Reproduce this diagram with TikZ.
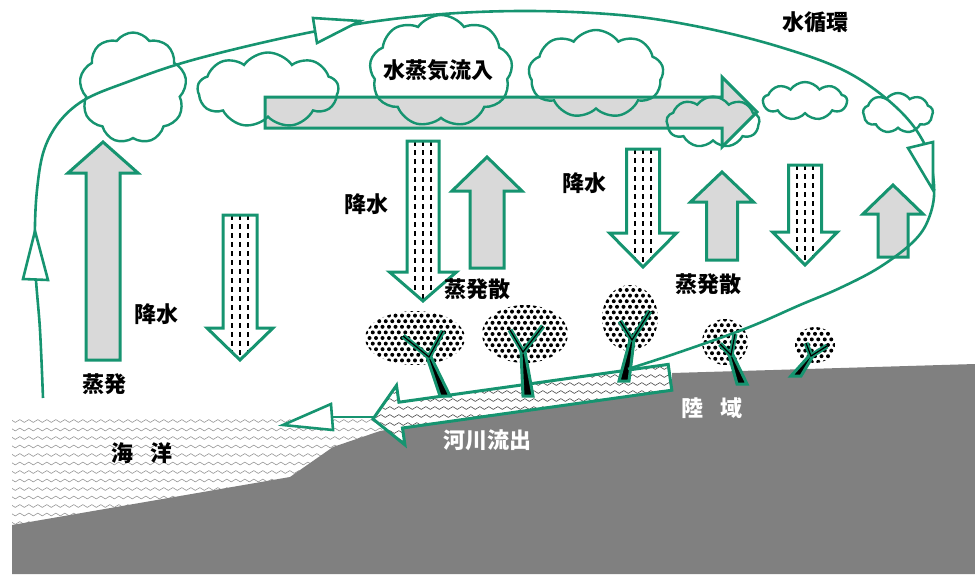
\documentclass[tikz,border=0pt]{standalone}
\usepackage{fontspec}
\newfontfamily\jpfont{Noto Sans CJK JP}
\usetikzlibrary{calc}
\usetikzlibrary{shapes.symbols}
\usetikzlibrary{decorations.pathmorphing}

\definecolor{cyclegreen}{RGB}{22,148,112}
\definecolor{arrowgray}{RGB}{217,217,217}
\definecolor{landgray}{RGB}{128,128,128}
\definecolor{wavegray}{RGB}{150,150,150}

% shaft x, foot y, head base y, tip y, half shaft, half head
\newcommand{\flowarrow}[7]{%
  \draw[#1] (#2-#6,#3) -- (#2-#6,#4) -- (#2-#7,#4) -- (#2,#5)
    -- (#2+#7,#4) -- (#2+#6,#4) -- (#2+#6,#3) -- cycle;}

% dotted tree top: x, y, x radius, y radius
\newcommand{\crown}[4]{%
  \begin{scope}
    \clip (#1,#2) ellipse [x radius=#3,y radius=#4];
    \foreach \i in {-9,...,9}
      \foreach \j in {-6,...,6}
        \fill ({#1+6.5*\i+3.25*mod(abs(\j),2)},{#2+5.6*\j}) circle [radius=2pt];
  \end{scope}}

% left twig, right twig, fork, foot
\newcommand{\trunk}[4]{%
  \draw[twig] (#1) -- (#3) -- (#2);
  \filldraw[twig, fill=black, line width=3pt]
    ($(#3)+(-2,0)$) -- ($(#4)+(-5,0)$) -- ($(#4)+(5,0)$) -- ($(#3)+(2,0)$) -- cycle;
  \draw[core] (#1) -- (#3) -- (#2);}

\begin{document}
\begin{tikzpicture}
	[x=1pt,y=-1pt,
	evap/.style={draw=cyclegreen,line width=3pt,fill=arrowgray,line join=miter},
	rain/.style={draw=cyclegreen,line width=3pt,fill=white,line join=miter,
		path picture={\foreach \dx in {-8,0,8}
			\draw[black,line width=1.4pt,dash pattern=on 5pt off 4pt]
				([xshift=\dx pt]path picture bounding box.north) -- ([xshift=\dx pt]path picture bounding box.south);}},
	puff/.style={cloud,draw=cyclegreen,line width=2.4pt,cloud puffs=9,cloud puff arc=110,inner sep=0pt},
	twig/.style={draw=cyclegreen,line width=5pt,line join=miter},
	core/.style={draw=black,line width=1.2pt},
	loopline/.style={cyclegreen,line width=2.6pt},
	loophead/.style={draw=cyclegreen,line width=2.6pt,fill=white,line join=miter},
	waves/.style={line width=0.6pt,decorate,decoration={snake,amplitude=1.4pt,segment length=9pt}},
	river/.style={draw=cyclegreen,line width=3pt,fill=white,line join=miter,
		path picture={\foreach \y in {360,368,...,452}
			\draw[waves,black!70] (360,\y) -- (690,\y);}},
	jtext/.style={font=\jpfont\bfseries\fontsize{22}{24}\selectfont,inner sep=0pt}]

	\useasboundingbox (0,0) rectangle (975,574);

	% sea surface
	\begin{scope}
		\clip (12,417) rectangle (382,540);
		\foreach \y in {421,429.5,...,540}
			\draw[waves,wavegray] (8,\y) -- (390,\y);
	\end{scope}

	% land and sea floor
	\fill[landgray] (12,574) -- (12,525) -- (290,477) -- (333,447) -- (380,431)
		-- (672,381) -- (672,373) -- (975,364) -- (975,574) -- cycle;

	% river runoff
	\draw[river] (373,419) -- (396.5,385.4) -- (398.9,402.2) -- (668.2,364.4)
		-- (671.8,390.2) -- (402.5,428) -- (404.9,444.8) -- cycle;

	% trees
	\crown{415}{338}{50}{27}
	\crown{525}{334}{43}{29}
	\crown{630}{318}{28}{33}
	\crown{725}{342}{23}{23}
	\crown{815}{345}{20}{18}
	\trunk{403,336}{443,331}{429,357}{445,396}
	\trunk{510,330}{543,326}{523,352}{528,396}
	\trunk{620,321}{650,311}{632,340}{624,381}
	\trunk{720,344}{735,334}{731,355}{742,384}
	\trunk{806,343}{827,346}{811,356}{796,376}

	% evaporation
	\flowarrow{evap}{103}{360}{173}{142}{17}{35}
	\flowarrow{evap}{487}{268}{191}{157}{17}{35}
	\flowarrow{evap}{722}{260}{202}{172}{15.5}{31.5}
	\flowarrow{evap}{893}{257}{214}{185}{15}{30}

	% precipitation
	\flowarrow{rain}{240}{215}{328}{360}{17}{33}
	\flowarrow{rain}{423}{141}{272}{301}{16}{33.5}
	\flowarrow{rain}{643}{149}{233}{267}{16.5}{33.5}
	\flowarrow{rain}{805}{165}{232}{265}{16.5}{32.5}

	% vapour inflow
	\draw[evap] (265,97) -- (722,97) -- (722,77) -- (757,112) -- (722,147) -- (722,128) -- (265,128) -- cycle;

	% clouds
	\node[puff,minimum width=107pt,minimum height=111pt] (cloud1) at (133,88) {};
	\node[puff,minimum width=141pt,minimum height=75pt] (cloud2) at (268,90) {};
	\node[puff,minimum width=143pt,minimum height=112pt] (cloud3) at (441,71) {};
	\node[puff,minimum width=135pt,minimum height=88pt] (cloud4) at (596,74) {};
	\node[puff,minimum width=93pt,minimum height=51pt] (cloud5) at (713,122) {};
	\node[puff,minimum width=84pt,minimum height=38pt] (cloud6) at (805,101) {};
	\node[puff,minimum width=70pt,minimum height=40pt] (cloud7) at (898,113) {};

	% the big loop
	\draw[loopline] plot[smooth,tension=0.6] coordinates {(43,398) (40,330) (35,260) (37,190)
		(48,140) (78,104) (130,81) (200,58) (317,31) (420,16) (520,11) (620,15) (700,27)
		(780,47) (847,72) (897,108) (925,145) (934,185) (930,215) (915,240) (880,267)
		(840,288) (800,305) (747,328) (680,352) (628,369)};
	\coordinate (rivertip) at (373,417);
	\coordinate (seahead) at (332,417);
	\draw[loopline] (rivertip) -- (seahead);
	\draw[loophead] (23,279) -- (35,231) -- (48,280) -- cycle;
	\draw[loophead] (313,18) -- (360,21) -- (317,43) -- cycle;
	\draw[loophead] (908,148) -- (933,142) -- (933,190) -- cycle;
	\draw[loophead] (283,425) -- (331,404) -- (333,430) -- cycle;

	% labels
	\node[jtext] (cycle) at (815,22) {水循環};
	\node[jtext] (inflow) at (438,70) {水蒸気流入};
	\node[jtext] (rainA) at (156,314) {降水};
	\node[jtext] (rainB) at (366,204) {降水};
	\node[jtext] (rainC) at (584,183) {降水};
	\node[jtext] (evapsea) at (104,384) {蒸発};
	\node[jtext] (transA) at (477,289) {蒸発散};
	\node[jtext] (transB) at (708,284) {蒸発散};
	\node[jtext] (ocean) at (142,453) {海\hspace{0.8em}洋};
	\node[jtext,white] (runoff) at (487,440) {河川流出};
	\node[jtext,white] (land) at (712,408) {陸\hspace{0.8em}域};
\end{tikzpicture}
\end{document}
